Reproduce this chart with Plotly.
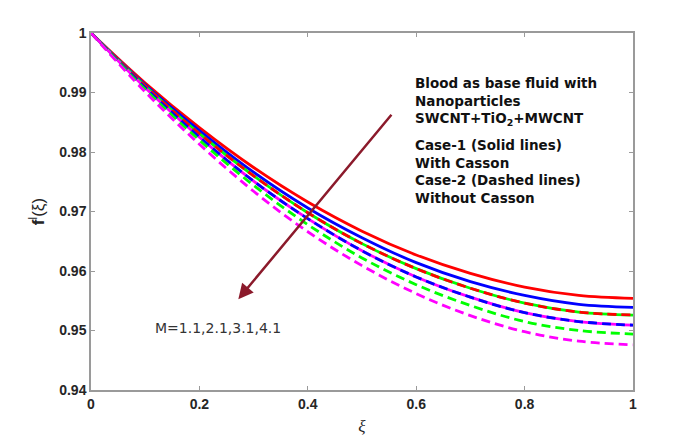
import plotly.graph_objects as go

xi = [0.0, 0.1, 0.2, 0.3, 0.4, 0.5, 0.6, 0.7, 0.8, 0.9, 1.0]

# Case-1 (solid lines, with Casson)
red_solid = [1, .9916, .9841, .9774, .9716, .9667, .9627, .9596, .9573, .9559, .9554]
blue_solid = [1, .9913, .9836, .9766, .9706, .9656, .9614, .9582, .9559, .9544, .9539]
green_solid = [1, .9911, .9831, .9760, .9698, .9646, .9604, .9571, .9546, .9531, .9526]
magenta_solid = [1, .9908, .9825, .9751, .9688, .9634, .9590, .9556, .9530, .9515, .9509]

# Case-2 (dashed lines, without Casson)
red_dashed = [1, .9911, .9831, .9760, .9698, .9646, .9604, .9571, .9546, .9531, .9526]
blue_dashed = [1, .9908, .9825, .9751, .9688, .9634, .9590, .9556, .9530, .9515, .9509]
green_dashed = [1, .9905, .9820, .9744, .9678, .9622, .9577, .9542, .9515, .9500, .9494]
magenta_dashed = [1, .9901, .9813, .9734, .9666, .9609, .9562, .9525, .9498, .9482, .9476]

x_ticks = [0, 0.2, 0.4, 0.6, 0.8, 1]
x_ticktext = ["0", "0.2", "0.4", "0.6", "0.8", "1"]
y_ticks = [0.94, 0.95, 0.96, 0.97, 0.98, 0.99, 1.0]
y_ticktext = ["0.94", "0.95", "0.96", "0.97", "0.98", "0.99", "1"]

note_lines_a = [
    "Blood as base fluid with",
    "Nanoparticles",
    "SWCNT+TiO<sub>2</sub>+MWCNT",
]
note_lines_b = [
    "Case-1 (Solid lines)",
    "With Casson",
    "Case-2 (Dashed lines)",
    "Without Casson",
]
m_label = "M=1.1,2.1,3.1,4.1"

fig = go.Figure()
solids = [(red_solid, "#ff0000"), (blue_solid, "#0000ff"), (green_solid, "#00ff00"), (magenta_solid, "#ff00ff")]
dashes = [(red_dashed, "#ff0000"), (blue_dashed, "#0000ff"), (green_dashed, "#00ff00"), (magenta_dashed, "#ff00ff")]
for ys, c in solids:
    fig.add_trace(go.Scatter(x=xi, y=ys, mode="lines", line=dict(color=c, width=2.8, shape="spline"), showlegend=False))
for ys, c in dashes:
    fig.add_trace(go.Scatter(x=xi, y=ys, mode="lines", line=dict(color=c, width=2.8, dash="9px,5px", shape="spline"), showlegend=False))

axis_common = dict(
    showgrid=False, zeroline=False, showline=True, linecolor="#9a9a9a", linewidth=1.5,
    mirror="ticks", ticks="inside", ticklen=4, tickcolor="#9a9a9a",
    tickfont=dict(family="Liberation Sans", size=14, color="#262626", weight="bold"),
)
fig.update_xaxes(range=[0, 1], tickvals=x_ticks, ticktext=x_ticktext,
                 title=dict(text="<i>ξ</i>", font=dict(family="Liberation Serif", size=17, color="#262626"), standoff=10),
                 **axis_common)
fig.update_yaxes(range=[0.94, 1], tickvals=y_ticks, ticktext=y_ticktext,
                 title=dict(text="<b>f</b><sup>l</sup>(ξ)", font=dict(family="Liberation Sans", size=17, color="#262626"), standoff=10),
                 **axis_common)

# arrow
fig.add_annotation(x=0.2718, y=0.95527, ax=0.5566, ay=0.9865, xref="x", yref="y", axref="x", ayref="y",
                   showarrow=True, arrowhead=2, arrowsize=1.2, arrowwidth=2.5, arrowcolor="#8b1a2b", text="")

note_font = dict(family="DejaVu Sans", size=13.5, color="#111111", weight="bold")
fig.add_annotation(x=0.594, y=0.9933, xref="x", yref="y", xanchor="left", yanchor="top", align="left",
                   showarrow=False, text="<br>".join(note_lines_a), font=note_font)
fig.add_annotation(x=0.594, y=0.98292, xref="x", yref="y", xanchor="left", yanchor="top", align="left",
                   showarrow=False, text="<br>".join(note_lines_b), font=note_font)
fig.add_annotation(x=0.1144, y=0.95044, xref="x", yref="y", xanchor="left", yanchor="middle",
                   showarrow=False, text=m_label,
                   font=dict(family="DejaVu Sans", size=14, color="#333333"))

fig.update_layout(width=700, height=439, margin=dict(l=83, r=75, t=25, b=57),
                  paper_bgcolor="white", plot_bgcolor="white")
fig.write_html("out.html")
